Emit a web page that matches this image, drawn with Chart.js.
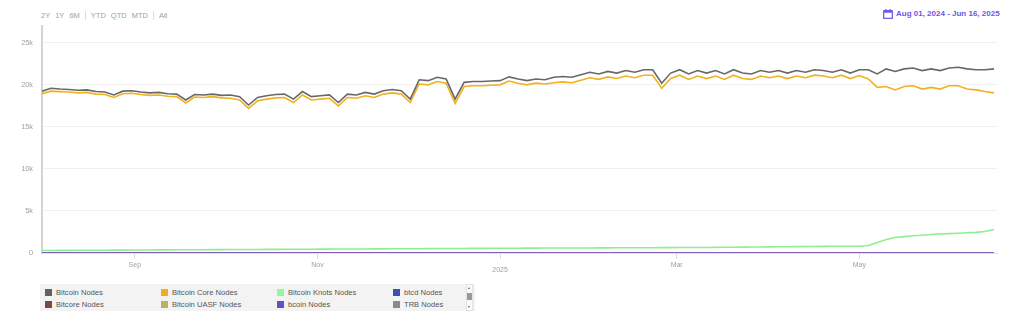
<!DOCTYPE html>
<html>
<head>
<meta charset="utf-8">
<script src="https://cdn.jsdelivr.net/npm/chart.js@4.4.1/dist/chart.umd.min.js"></script>
<style>
  html, body { margin: 0; padding: 0; background: #fff; }
  body { width: 1024px; height: 333px; position: relative; overflow: hidden; font-family: "Liberation Sans", Arial, sans-serif; }
  #wrap { position: absolute; left: 0; top: 0; width: 1024px; height: 282px; }
  .ranges { position: absolute; left: 41px; top: 11px; font-size: 7.5px; color: #a0a0a0; white-space: nowrap; }
  .ranges span { margin-right: 5px; }
  .ranges .sep { display: inline-block; width: 1px; height: 9px; background: #ddd; vertical-align: -2px; margin-right: 5px; }
  .range-date { position: absolute; left: 883px; top: 9px; color: #6f55e8; font-weight: bold; font-size: 8px; white-space: nowrap; }
  .range-date svg { vertical-align: -3px; margin-right: 3px; }
  .legend { position: absolute; left: 40px; top: 284px; width: 435px; height: 27px; background: #f3f3f3; font-size: 7.6px; color: #555; }
  .legend .item { position: absolute; white-space: nowrap; }
  .legend .sw { display: inline-block; width: 7px; height: 7px; margin-right: 4px; vertical-align: -1px; }
  .scroll { position: absolute; left: 426px; top: 0; width: 7px; height: 27px; background: #fafafa; border: 1px solid #e2e2e2; box-sizing: border-box; }
  .scroll .thumb { position: absolute; left: 0; top: 8px; width: 5px; height: 7px; background: #9a9a9a; }
  .scroll .up, .scroll .down { position: absolute; left: 1px; width: 0; height: 0; border-left: 1.5px solid transparent; border-right: 1.5px solid transparent; }
  .scroll .up { top: 2px; border-bottom: 2px solid #666; }
  .scroll .down { bottom: 2px; border-top: 2px solid #666; }
</style>
</head>
<body>
<div class="ranges">
  <span>2Y</span><span>1Y</span><span>6M</span><i class="sep"></i><span>YTD</span><span>QTD</span><span>MTD</span><i class="sep"></i><span>All</span>
</div>
<div class="range-date">
  <svg width="10" height="10" viewBox="0 0 10 10"><rect x="0.7" y="1.7" width="8.6" height="7.6" fill="none" stroke="#6f55e8" stroke-width="1.2"/><rect x="0.7" y="1.7" width="8.6" height="2" fill="#6f55e8"/><rect x="2.3" y="0" width="1.2" height="2.5" fill="#6f55e8"/><rect x="6.5" y="0" width="1.2" height="2.5" fill="#6f55e8"/></svg>Aug 01, 2024 - Jun 16, 2025
</div>
<div id="wrap"><canvas id="nodesChart"></canvas></div>
<div class="legend" id="legend"></div>

<script>
// days since Aug 01, 2024
const days = [0, 3, 6, 9, 12, 15, 18, 21, 24, 27, 30, 33, 36, 39, 42, 45, 48, 51, 54, 57,
    60, 63, 66, 69, 72, 75, 78, 81, 84, 87, 90, 93, 96, 99, 102, 105, 108, 111, 114, 117,
    120, 123, 126, 129, 132, 135, 138, 141, 144, 147, 150, 153, 156, 159, 162, 165, 168, 171, 174, 177,
    180, 183, 186, 189, 192, 195, 198, 201, 204, 207, 210, 213, 216, 219, 222, 225, 228, 231, 234, 237,
    240, 243, 246, 249, 252, 255, 258, 261, 264, 267, 270, 273, 276, 279, 282, 285, 288, 291, 294, 297,
    300, 303, 306, 309, 312, 315, 318];

const bitcoinNodes = [19250, 19600, 19500, 19450, 19350, 19400, 19200, 19150, 18800, 19250,
    19300, 19150, 19050, 19100, 18950, 18900, 18200, 18850, 18800, 18900,
    18750, 18800, 18600, 17600, 18500, 18700, 18850, 18900, 18300, 19200,
    18600, 18700, 18800, 17900, 18900, 18800, 19100, 18900, 19300, 19450,
    19300, 18300, 20600, 20500, 20900, 20700, 18300, 20300, 20400, 20400,
    20450, 20500, 20950, 20700, 20500, 20700, 20600, 20900, 21000, 20900,
    21200, 21500, 21300, 21600, 21400, 21700, 21500, 21800, 21800, 20200,
    21400, 21800, 21300, 21700, 21400, 21700, 21300, 21800, 21400, 21300,
    21700, 21500, 21700, 21400, 21700, 21500, 21800, 21700, 21500, 21800,
    21400, 21800, 21800, 21300, 21900, 21600, 21900, 22000, 21700, 21900,
    21700, 22000, 22100, 21900, 21800, 21800, 21900];

const coreNodes = [18950, 19250, 19200, 19150, 19050, 19100, 18900, 18850, 18500, 18950,
    19000, 18850, 18750, 18800, 18650, 18600, 17850, 18550, 18500, 18600,
    18450, 18400, 18200, 17200, 18100, 18300, 18450, 18500, 17900, 18800,
    18200, 18300, 18400, 17500, 18500, 18400, 18700, 18500, 18900, 19050,
    18900, 17900, 20100, 20000, 20400, 20200, 17800, 19800, 19900, 19900,
    19950, 20000, 20450, 20200, 20000, 20200, 20100, 20250, 20350, 20250,
    20550, 20850, 20650, 20950, 20750, 21050, 20850, 21150, 21150, 19600,
    20750, 21150, 20650, 21050, 20750, 21050, 20650, 21150, 20750, 20650,
    21050, 20850, 21050, 20750, 21050, 20850, 21150, 21050, 20850, 21150,
    20750, 21100, 20700, 19700, 19800, 19400, 19800, 19900, 19500, 19700,
    19500, 19900, 19900, 19500, 19400, 19200, 19050];

const knotsNodes = [300, 300, 310, 310, 320, 320, 330, 330, 340, 340, 350,
    360, 360, 370, 370, 380, 380, 390, 390, 400, 400, 410, 410, 420, 420, 430, 430, 440, 440, 450, 450,
    460, 460, 470, 470, 480, 480, 490, 490, 500, 500, 510, 510, 520, 530, 530, 540, 540, 550, 550, 560,
    560, 570, 570, 580, 580, 590, 590, 600, 600, 600, 600, 610, 610, 620, 620, 620, 630, 630, 640, 640,
    650, 650, 660, 660, 670, 680, 690, 700, 710, 720, 730, 740, 750, 760, 770, 780, 790, 800, 800, 800,
    800, 900, 1250, 1600, 1850, 1950, 2050, 2120, 2200, 2260, 2300, 2350, 2400, 2450, 2550, 2800];

// small implementations, all close to zero
const smallDays = [0, 92, 153, 212, 273, 318];
const btcdNodes = [8, 8, 7, 7, 6, 6];
const bitcoreNodes = [3, 3, 3, 2, 2, 2];
const uasfNodes = [2, 2, 2, 2, 2, 2];
const bcoinNodes = [10, 10, 10, 9, 9, 9];
const trbNodes = [1, 1, 1, 1, 1, 1];

const tickDays = [31, 92, 153, 212, 273];
const tickLabels = ['Sep', 'Nov', '2025', 'Mar', 'May'];
const yTicks = [0, 5000, 10000, 15000, 20000, 25000];

const seriesNames = ['Bitcoin Nodes', 'Bitcoin Core Nodes', 'Bitcoin Knots Nodes', 'btcd Nodes',
    'Bitcore Nodes', 'Bitcoin UASF Nodes', 'bcoin Nodes', 'TRB Nodes'];
const legendColors = ['#626262', '#f0ad1c', '#98f598', '#3d4fb5', '#7a4b3d', '#b8b45e', '#6a4cc4', '#8a8a8a'];

const pts = (xs, ys) => xs.map((x, i) => ({ x: x, y: ys[i] }));

// legend (html, four columns)
const colX = [5, 121, 237, 353];
const rowY = [4, 16];
const legendEl = document.getElementById('legend');
seriesNames.forEach((name, i) => {
    const d = document.createElement('div');
    d.className = 'item';
    d.style.left = colX[i % 4] + 'px';
    d.style.top = rowY[Math.floor(i / 4)] + 'px';
    d.innerHTML = '<span class="sw" style="background:' + legendColors[i] + '"></span>' + name;
    legendEl.appendChild(d);
});
legendEl.insertAdjacentHTML('beforeend', '<div class="scroll"><i class="up"></i><i class="thumb"></i><i class="down"></i></div>');

const ctx = document.getElementById('nodesChart').getContext('2d');
const lineOpts = { pointRadius: 0, borderWidth: 1.6, tension: 0, fill: false };

new Chart(ctx, {
    type: 'line',
    data: {
        datasets: [
            { ...lineOpts, label: seriesNames[6], data: pts(smallDays, bcoinNodes), borderColor: '#8160b8', borderWidth: 2, order: 0 },
            { ...lineOpts, label: seriesNames[3], data: pts(smallDays, btcdNodes), borderColor: '#3d4fb5', order: 1 },
            { ...lineOpts, label: seriesNames[4], data: pts(smallDays, bitcoreNodes), borderColor: '#7a4b3d', order: 2 },
            { ...lineOpts, label: seriesNames[5], data: pts(smallDays, uasfNodes), borderColor: '#b8b45e', order: 3 },
            { ...lineOpts, label: seriesNames[7], data: pts(smallDays, trbNodes), borderColor: '#8a8a8a', order: 4 },
            { ...lineOpts, label: seriesNames[2], data: pts(days, knotsNodes), borderColor: '#90ee90', order: 5 },
            { ...lineOpts, label: seriesNames[0], data: pts(days, bitcoinNodes), borderColor: '#686868', order: 6 },
            { ...lineOpts, label: seriesNames[1], data: pts(days, coreNodes), borderColor: '#f2b11f', order: 7 }
        ]
    },
    options: {
        responsive: true,
        maintainAspectRatio: false,
        animation: false,
        layout: { padding: { left: 0, right: 27, top: 26, bottom: 0 } },
        plugins: { legend: { display: false }, tooltip: { enabled: false } },
        scales: {
            x: {
                type: 'linear',
                min: 0,
                max: 319,
                afterFit: (s) => { s.height = 29; },
                afterBuildTicks: (s) => { s.ticks = tickDays.map(v => ({ value: v })); },
                grid: { drawOnChartArea: false, drawTicks: true, tickLength: 6, color: '#dcdcdc' },
                border: { display: true, color: '#e2e2e2', width: 1 },
                ticks: {
                    autoSkip: false,
                    maxRotation: 0,
                    padding: 2,
                    color: '#a0a0a0',
                    font: (c) => ({ family: 'Liberation Sans', size: 7, lineHeight: c.tick && c.tick.value === 153 ? 0.9 : 1.2 }),
                    callback: (v) => {
                        const label = tickLabels[tickDays.indexOf(v)];
                        return label === '2025' ? ['', label] : label;
                    }
                }
            },
            y: {
                min: 0,
                max: 27000,
                afterFit: (s) => { s.width = 42; },
                afterBuildTicks: (s) => { s.ticks = yTicks.map(v => ({ value: v })); },
                grid: { drawTicks: false, color: '#f0f0f0' },
                border: { display: true, color: '#d4d4d4', width: 2 },
                ticks: {
                    padding: 9,
                    color: '#a0a0a0',
                    font: { family: 'Liberation Sans', size: 7.3 },
                    callback: (v) => v === 0 ? '0' : (v / 1000) + 'k'
                }
            }
        }
    }
});
</script>
</body>
</html>
